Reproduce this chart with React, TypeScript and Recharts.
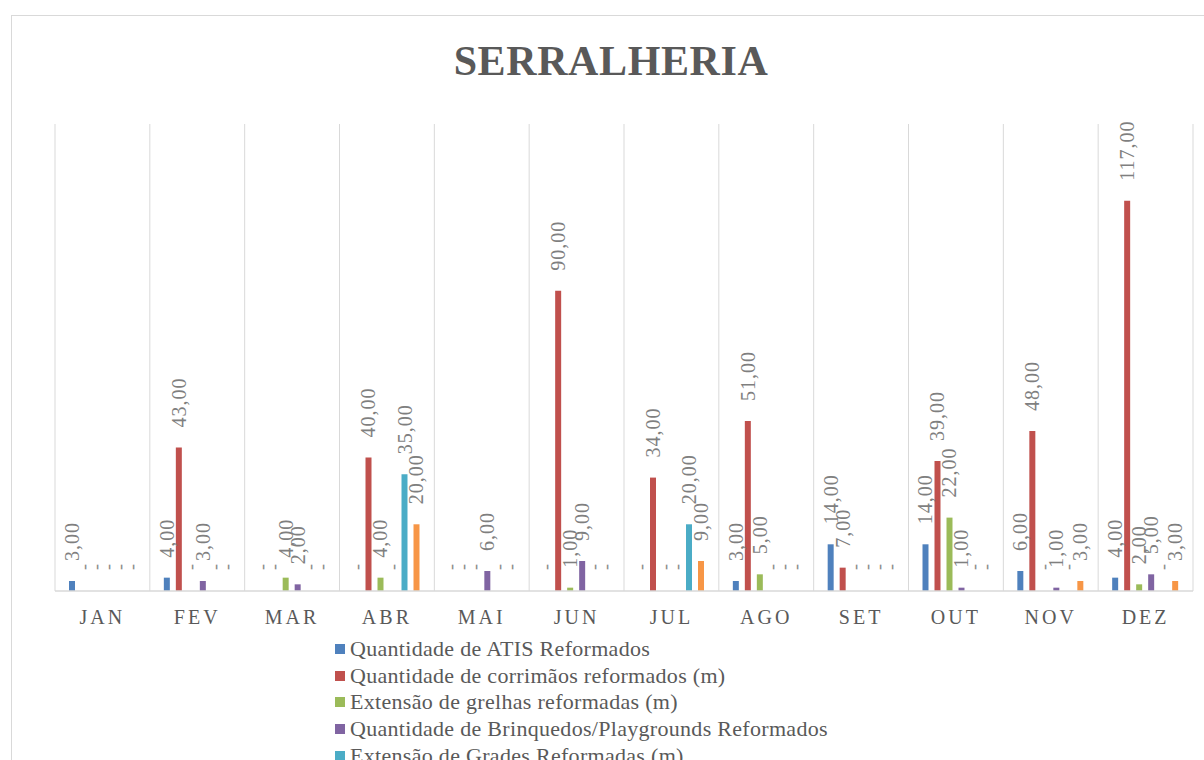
import React from 'react';
import { BarChart, Bar, XAxis, YAxis, CartesianGrid, LabelList } from 'recharts';

const months = ['JAN', 'FEV', 'MAR', 'ABR', 'MAI', 'JUN', 'JUL', 'AGO', 'SET', 'OUT', 'NOV', 'DEZ'];
const atis = [3, 4, 0, 0, 0, 0, 0, 3, 14, 14, 6, 4];
const corrimaos = [0, 43, 0, 40, 0, 90, 34, 51, 7, 39, 48, 117];
const grelhas = [0, 0, 4, 4, 0, 1, 0, 5, 0, 22, 0, 2];
const brinquedos = [0, 3, 2, 0, 6, 9, 0, 0, 0, 1, 1, 5];
const grades = [0, 0, 0, 35, 0, 0, 20, 0, 0, 0, 0, 0];
const portoes = [0, 0, 0, 20, 0, 0, 9, 0, 0, 0, 3, 3];

const seriesDefs = [
  { key: 'atis', name: 'Quantidade de ATIS Reformados', color: '#4F81BD', values: atis },
  { key: 'corrimaos', name: 'Quantidade de corrimãos reformados (m)', color: '#C0504D', values: corrimaos },
  { key: 'grelhas', name: 'Extensão de grelhas reformadas (m)', color: '#9BBB59', values: grelhas },
  { key: 'brinquedos', name: 'Quantidade de Brinquedos/Playgrounds Reformados', color: '#8064A2', values: brinquedos },
  { key: 'grades', name: 'Extensão de Grades Reformadas (m)', color: '#4BACC6', values: grades },
  { key: 'portoes', name: 'Extensão de Portões Reformados (m)', color: '#F79646', values: portoes },
];

const data = months.map((m, i) => {
  const row: Record<string, any> = { month: m };
  seriesDefs.forEach((s) => {
    row[s.key] = s.values[i];
  });
  return row;
});

const FONT = '"Liberation Serif", "DejaVu Serif", serif';

const fmt = (v: number) => v.toFixed(2).replace('.', ',');

const ValueLabel = (props: any) => {
  const { x, y, width, height, value } = props;
  const cx = Number(x) + Number(width) / 2;
  const top = Math.min(Number(y), Number(y) + Number(height));
  const base = Math.max(Number(y), Number(y) + Number(height));
  if (!Number(value)) {
    const py = base - 24;
    return (
      <text
        x={cx}
        y={py}
        transform={`rotate(-90 ${cx} ${py})`}
        textAnchor="middle"
        dominantBaseline="central"
        fill="#8C8C8C"
        fontFamily={FONT}
        fontSize={18}
      >
        {'-'}
      </text>
    );
  }
  const py = top - 20;
  return (
    <text
      x={cx}
      y={py}
      transform={`rotate(-90 ${cx} ${py})`}
      textAnchor="start"
      dominantBaseline="central"
      fill="#7F7F7F"
      fontFamily={FONT}
      fontSize={20}
      letterSpacing={1}
    >
      {fmt(Number(value))}
    </text>
  );
};

const MonthTick = (props: any) => {
  const { x, y, payload } = props;
  return (
    <text
      x={x}
      y={y + 25}
      textAnchor="middle"
      fill="#595959"
      fontFamily={FONT}
      fontSize={20}
      letterSpacing={3}
    >
      {payload.value}
    </text>
  );
};

export default function App() {
  return (
    <div
      style={{
        position: 'fixed',
        left: 0,
        top: 0,
        width: 1204,
        height: 760,
        overflow: 'hidden',
        background: '#ffffff',
      }}
    >
      <div
        style={{
          position: 'absolute',
          left: 11,
          top: 15,
          width: 1300,
          height: 900,
          border: '1px solid #D9D9D9',
          boxSizing: 'border-box',
        }}
      />
      <div
        style={{
          position: 'absolute',
          left: 0,
          width: 1222,
          top: 36,
          textAlign: 'center',
          fontFamily: FONT,
          fontWeight: 'bold',
          fontSize: 42,
          letterSpacing: 0.6,
          color: '#595959',
          lineHeight: '50px',
        }}
      >
        SERRALHERIA
      </div>
      <div style={{ position: 'absolute', left: 0, top: 0 }}>
        <BarChart
          width={1204}
          height={760}
          data={data}
          margin={{ top: 124, right: 11, left: 55, bottom: 139 }}
          barSize={6}
          barGap={6}
        >
          <CartesianGrid
            horizontal={false}
            vertical={true}
            stroke="#D9D9D9"
            verticalCoordinatesGenerator={(p: any) => {
              const off = p.offset;
              const arr: number[] = [];
              for (let i = 0; i <= months.length; i++) {
                arr.push(off.left + (off.width * i) / months.length);
              }
              return arr;
            }}
          />
          <XAxis
            dataKey="month"
            height={30}
            axisLine={{ stroke: '#D9D9D9', strokeWidth: 1.5 }}
            tickLine={false}
            tick={<MonthTick />}
            interval={0}
          />
          <YAxis hide domain={[0, 140]} />
          {seriesDefs.map((s) => (
            <Bar
              key={s.key}
              dataKey={s.key}
              name={s.name}
              fill={s.color}
              minPointSize={0.01}
              isAnimationActive={false}
            >
              <LabelList dataKey={s.key} content={<ValueLabel />} />
            </Bar>
          ))}
        </BarChart>
      </div>
      <div style={{ position: 'absolute', left: 335, top: 636 }}>
        {seriesDefs.map((s) => (
          <div
            key={s.key}
            style={{
              display: 'flex',
              alignItems: 'center',
              height: 26.6,
              fontFamily: FONT,
              fontSize: 22,
              letterSpacing: 0.3,
              color: '#595959',
              whiteSpace: 'nowrap',
            }}
          >
            <span
              style={{
                display: 'inline-block',
                width: 10,
                height: 10,
                background: s.color,
                marginRight: 5,
              }}
            />
            <span>{s.name}</span>
          </div>
        ))}
      </div>
    </div>
  );
}
